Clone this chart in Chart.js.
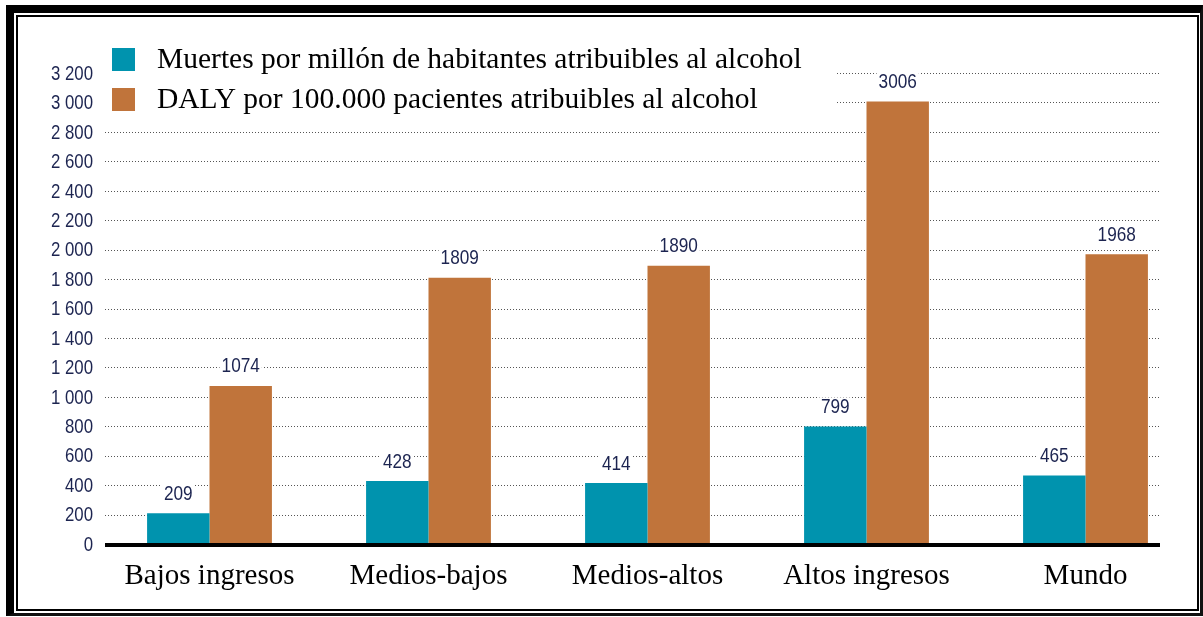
<!DOCTYPE html>
<html>
<head>
<meta charset="utf-8">
<script src="https://cdn.jsdelivr.net/npm/chart.js@4"></script>
<style>
    html, body { margin: 0; padding: 0; background: #fff; }
    #wrap { position: relative; width: 1203px; height: 617px; }
    #frame {
        position: absolute; left: 6px; top: 5px; right: 0; bottom: 1px;
        border-left: 8px solid #000; border-top: 8px solid #000;
        border-right: 3px solid #111; border-bottom: 3px solid #111;
        box-sizing: border-box; pointer-events: none;
    }
    #inner {
        position: absolute; left: 2px; top: 2px; right: 1px; bottom: 2px;
        border: 2px solid #000; box-sizing: border-box;
    }
    canvas { position: absolute; left: 0; top: 0; }
</style>
</head>
<body>
<div id="wrap">
    <canvas id="alcoholChart" width="1203" height="617"></canvas>
    <div id="frame"><div id="inner"></div></div>
</div>
<script>
const categories = ['Bajos ingresos', 'Medios-bajos', 'Medios-altos', 'Altos ingresos', 'Mundo'];
const seriesNames = [
    'Muertes por millón de habitantes atribuibles al alcohol',
    'DALY por 100.000 pacientes atribuibles al alcohol'
];
const muertes = [209, 428, 414, 799, 465];
const daly = [1074, 1809, 1890, 3006, 1968];
const yTicks = [0, 200, 400, 600, 800, 1000, 1200, 1400, 1600, 1800, 2000, 2200, 2400, 2600, 2800, 3000, 3200];

const TEAL = '#0093ae';
const ORANGE = '#c0743b';
const NAVY = '#1c2450';
const SANS = "'Liberation Sans', Arial, sans-serif";
const SERIF = "'Liberation Serif', 'DejaVu Serif', serif";

function fmt(v) {
    return String(v).replace(/\B(?=(\d{3})+(?!\d))/g, ' ');
}

// condensed text: the source uses a narrow sans, so squeeze Liberation Sans
function narrowText(ctx, txt, x, y, sx) {
    ctx.save();
    ctx.translate(x, y);
    ctx.scale(sx, 1);
    ctx.fillText(txt, 0, 0);
    ctx.restore();
}

// dotted grid + thick baseline, stopping short of the right edge
const gridPlugin = {
    id: 'dottedGrid',
    beforeDatasetsDraw(chart) {
        const { ctx, chartArea, scales } = chart;
        const x0 = chartArea.left + 5, x1 = chartArea.right - 35;
        ctx.save();
        ctx.strokeStyle = '#555';
        ctx.lineWidth = 1;
        ctx.setLineDash([1, 2]);
        yTicks.forEach(t => {
            if (t === 0) return;
            const y = Math.round(scales.y.getPixelForValue(t)) + 0.5;
            ctx.beginPath();
            ctx.moveTo(x0, y);
            ctx.lineTo(x1, y);
            ctx.stroke();
        });
        ctx.restore();

        // y tick labels
        ctx.save();
        ctx.font = '21px ' + SANS;
        ctx.fillStyle = NAVY;
        ctx.textAlign = 'right';
        ctx.textBaseline = 'middle';
        yTicks.forEach(t => {
            narrowText(ctx, fmt(t), chartArea.left - 7, scales.y.getPixelForValue(t) + 1, 0.8);
        });
        ctx.restore();
    },
    afterDatasetsDraw(chart) {
        const { ctx, chartArea, scales } = chart;
        const y = scales.y.getPixelForValue(0) + 1;
        ctx.save();
        ctx.strokeStyle = '#000';
        ctx.lineWidth = 4;
        ctx.beginPath();
        ctx.moveTo(chartArea.left + 5, y);
        ctx.lineTo(chartArea.right - 35, y);
        ctx.stroke();
        ctx.restore();
    }
};

// value labels on white boxes above each bar
const valuePlugin = {
    id: 'values',
    afterDatasetsDraw(chart) {
        const { ctx } = chart;
        ctx.save();
        ctx.font = '20px ' + SANS;
        ctx.textAlign = 'center';
        ctx.textBaseline = 'middle';
        chart.data.datasets.forEach((ds, i) => {
            chart.getDatasetMeta(i).data.forEach((bar, j) => {
                const txt = String(ds.data[j]);
                const w = ctx.measureText(txt).width * 0.86;
                const y = bar.y - 19;
                ctx.fillStyle = '#fff';
                ctx.fillRect(bar.x - w / 2 - 2, y - 10, w + 4, 20);
                ctx.fillStyle = NAVY;
                narrowText(ctx, txt, bar.x, y, 0.86);
            });
        });
        ctx.restore();
    }
};

// legend box in the top-left of the plot
const legendPlugin = {
    id: 'boxLegend',
    afterDraw(chart) {
        const { ctx, chartArea } = chart;
        const left = chartArea.left + 12;
        ctx.save();
        ctx.fillStyle = '#fff';
        ctx.fillRect(chartArea.left, 40, 736, 76);
        ctx.font = '29.5px ' + SERIF;
        ctx.textBaseline = 'alphabetic';
        chart.data.datasets.forEach((ds, i) => {
            const top = 48 + i * 40;
            ctx.fillStyle = ds.backgroundColor;
            ctx.fillRect(left, top, 23, 23);
            ctx.fillStyle = '#000';
            ctx.fillText(ds.label, left + 45, top + 20);
        });
        ctx.restore();
    }
};

new Chart(document.getElementById('alcoholChart').getContext('2d'), {
    type: 'bar',
    data: {
        labels: categories,
        datasets: [
            { label: seriesNames[0], data: muertes, backgroundColor: TEAL, borderWidth: 0 },
            { label: seriesNames[1], data: daly, backgroundColor: ORANGE, borderWidth: 0 }
        ]
    },
    options: {
        responsive: false,
        animation: false,
        layout: { padding: { top: 73, right: 8, left: 0, bottom: 0 } },
        datasets: {
            bar: { categoryPercentage: 0.57, barPercentage: 1.0 }
        },
        plugins: {
            legend: { display: false },
            tooltip: { enabled: false }
        },
        scales: {
            x: {
                grid: { display: false },
                border: { display: false },
                ticks: { font: { family: SERIF, size: 29 }, color: '#000', padding: 7 },
                afterFit(scale) { scale.height = 73; }
            },
            y: {
                min: 0,
                max: 3200,
                grid: { display: false },
                border: { display: false },
                ticks: { display: false },
                afterFit(scale) { scale.width = 100; }
            }
        }
    },
    plugins: [gridPlugin, valuePlugin, legendPlugin]
});
</script>
</body>
</html>
